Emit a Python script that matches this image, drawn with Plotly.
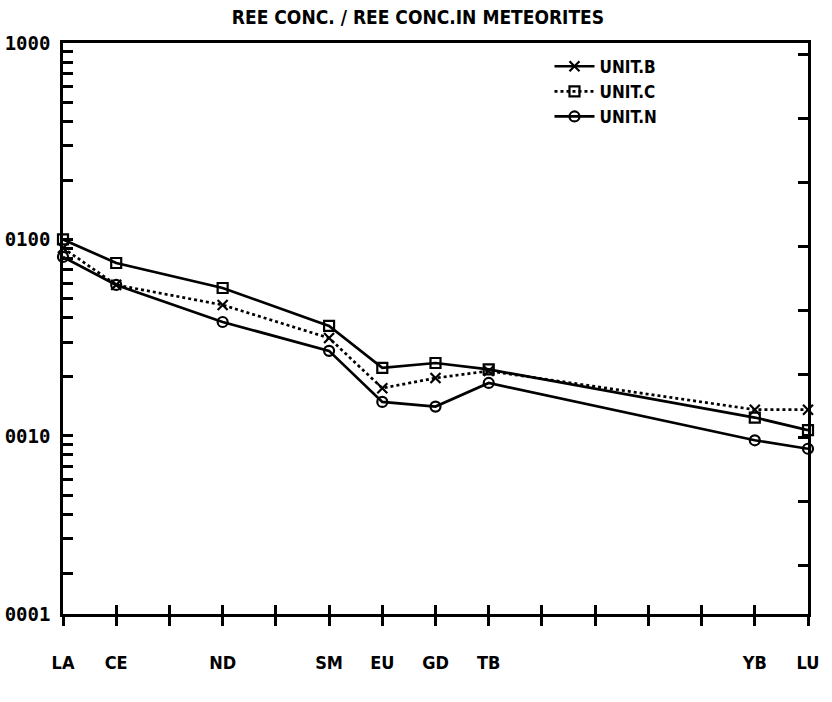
import math
import plotly.graph_objects as go

# Rare-earth elements along the x axis (chondrite-normalised pattern)
elements = ["LA", "CE", "PR", "ND", "PM", "SM", "EU", "GD", "TB", "DY", "HO", "ER", "TM", "YB", "LU"]
shown_labels = {"LA", "CE", "ND", "SM", "EU", "GD", "TB", "YB", "LU"}

# Measured elements for each unit
measured = ["LA", "CE", "ND", "SM", "EU", "GD", "TB", "YB", "LU"]
unit_b = [90.5, 58.7, 46.4, 31.5, 17.5, 19.7, 21.4, 13.6, 13.6]
unit_c = [100, 75.9, 56.6, 36.3, 22.2, 23.5, 21.8, 12.4, 10.7]
unit_n = [81.5, 58.7, 38.0, 27.1, 14.9, 14.1, 18.6, 9.5, 8.6]

# Plotter axis: the bottom edge of the frame is drawn a little above 1
# and carries the "0001" label; decades above it are labelled normally.
y_bottom = 1.24
y_tick_vals = [y_bottom, 10, 100, 1000]
y_tick_text = ["0001", "0010", "0100", "1000"]

idx = {e: i for i, e in enumerate(elements)}
xpos = [idx[e] for e in measured]

fig = go.Figure()

# Plotted series
series = [
    ("UNIT.B", unit_b, "dot", "x-thin-open"),
    ("UNIT.C", unit_c, "solid", "square-open"),
    ("UNIT.N", unit_n, "solid", "circle-open"),
]
for name, vals, dash, sym in series:
    fig.add_trace(go.Scatter(
        x=xpos, y=vals, name=name, legendgroup=name, showlegend=False,
        mode="lines+markers",
        line=dict(color="black", width=2.7, dash=dash),
        marker=dict(symbol=sym, size=10, color="black",
                    line=dict(color="black", width=2.2)),
        cliponaxis=False,
    ))

# Legend keys, drawn in the plotter's key styles
legend_keys = [
    ("UNIT.B", "solid", "x-thin-open"),
    ("UNIT.C", "dot", "square-open"),
    ("UNIT.N", "solid", "circle-open"),
]
for name, dash, sym in legend_keys:
    fig.add_trace(go.Scatter(
        x=[None], y=[None], name=name, legendgroup=name, showlegend=True,
        mode="lines+markers", xaxis="x2", yaxis="y2",
        line=dict(color="black", width=2.7, dash=dash),
        marker=dict(symbol=sym, size=10, color="black",
                    line=dict(color="black", width=2.2)),
    ))

plot_font = "DejaVu Sans Condensed, Liberation Sans Narrow, Arial Narrow, sans-serif"
label_font = dict(family=plot_font, size=18, color="black", weight="bold")

fig.update_layout(
    width=832, height=702,
    margin=dict(l=63, r=24, t=43, b=88),
    paper_bgcolor="white", plot_bgcolor="white",
    title=dict(text="REE CONC. / REE CONC.IN METEORITES", x=418 / 832, xref="container",
               xanchor="center", y=1 - 17 / 702, yref="container", yanchor="middle",
               font=dict(family=plot_font, size=19, color="black", weight="bold")),
    font=dict(family=plot_font, color="black"),
    legend=dict(x=0.653, y=0.99, xanchor="left", yanchor="top",
                bgcolor="rgba(0,0,0,0)", borderwidth=0,
                font=dict(family=plot_font, size=17, color="black", weight="bold"),
                tracegroupgap=0, itemwidth=40),
)

x_range = [0, len(elements) - 1]
y_range = [math.log10(y_bottom), 3]

fig.update_xaxes(
    range=x_range, automargin=False,
    tickmode="array",
    tickvals=list(range(len(elements))),
    ticktext=[e if e in shown_labels else "" for e in elements],
    ticks="outside", ticklen=9, tickwidth=2.5, tickcolor="black",
    showline=True, linecolor="black", linewidth=2.5, mirror=True,
    showgrid=False, zeroline=False,
    tickfont=label_font,
    ticklabelstandoff=22,
)

# Minor log ticks on the left axis
minor_vals = [m * 10 ** d for d in range(3) for m in range(2, 10)]
fig.update_yaxes(
    type="log", range=y_range, automargin=False,
    tickmode="array", tickvals=y_tick_vals, ticktext=y_tick_text,
    ticks="inside", ticklen=10, tickwidth=2.5, tickcolor="black",
    minor=dict(tickvals=minor_vals, ticks="inside", ticklen=10, tickwidth=2.5, tickcolor="black"),
    showline=True, linecolor="black", linewidth=2.5, mirror=True,
    showgrid=False, zeroline=False,
    tickfont=dict(family="DejaVu Sans Mono", size=19, color="black", weight="bold"),
    ticklabelstandoff=6,
)

# Upward halves of the x tick marks, and evenly spaced ticks on the right frame
right_ticks = [10 ** (0.34 + 0.325 * j) for j in range(9)]
fig.update_layout(
    xaxis2=dict(overlaying="x", anchor="y", side="bottom", range=x_range, automargin=False,
                tickmode="array", tickvals=list(range(len(elements))),
                ticks="inside", ticklen=9, tickwidth=2.5, tickcolor="black",
                showticklabels=False, showline=False, showgrid=False, zeroline=False),
    yaxis2=dict(overlaying="y", anchor="x", side="right", type="log", range=y_range,
                automargin=False,
                tickmode="array", tickvals=right_ticks,
                ticks="inside", ticklen=10, tickwidth=2.5, tickcolor="black",
                showticklabels=False, showline=False, showgrid=False, zeroline=False),
)

fig.write_html("out.html")
